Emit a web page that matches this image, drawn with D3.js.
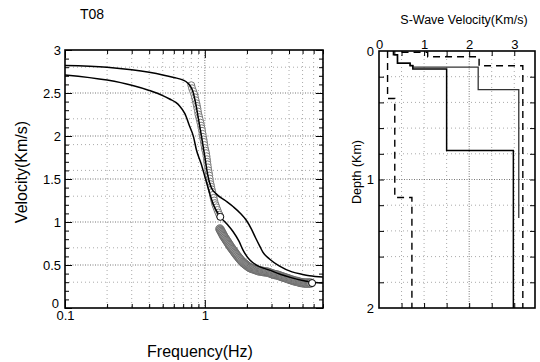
<!DOCTYPE html>
<html>
<head>
<meta charset="utf-8">
<script src="https://cdnjs.cloudflare.com/ajax/libs/d3/7.8.5/d3.min.js"></script>
<style>
  body { margin: 0; background: #fff; }
  svg { display: block; font-family: "Liberation Sans", Arial, sans-serif; }
</style>
</head>
<body>
<svg id="chart" width="540" height="362"></svg>
<script>
// ---- dispersion panel (left) ----
const freqMajorTicks = [0.1, 1];
const freqMinorTicks = [0.2, 0.3, 0.4, 0.5, 0.6, 0.7, 0.8, 0.9, 2, 3, 4, 5, 6, 7];
const velMajorTicks = [0, 0.5, 1, 1.5, 2, 2.5, 3];
const velMinorTicks = d3.range(0, 3.001, 0.1);
const velMinorGrid = [0.3, 0.7, 1.3, 1.6, 1.9, 2.2, 2.8];

// theoretical curves [freq Hz, velocity km/s]
const curveUpper = [
  [0.1, 2.82], [0.2, 2.80], [0.3, 2.77], [0.4, 2.74], [0.5, 2.71], [0.6, 2.68],
  [0.7, 2.65], [0.75, 2.62], [0.78, 2.59], [0.82, 2.52], [0.86, 2.38], [0.9, 2.2],
  [0.95, 1.98], [1.0, 1.76], [1.04, 1.58], [1.08, 1.46], [1.12, 1.39], [1.2, 1.33],
  [1.4, 1.25], [1.59, 1.18], [1.8, 1.1], [1.98, 1.02], [2.15, 0.92], [2.3, 0.82],
  [2.47, 0.72], [2.6, 0.65], [2.9, 0.57], [3.4, 0.49], [4.2, 0.42], [5.0, 0.39],
  [5.6, 0.375], [7, 0.36]
];
const curveLower = [
  [0.1, 2.71], [0.2, 2.65], [0.3, 2.59], [0.4, 2.53], [0.5, 2.47], [0.56, 2.43],
  [0.62, 2.39], [0.66, 2.35], [0.72, 2.26], [0.78, 2.11], [0.83, 1.99], [0.87, 1.84],
  [0.94, 1.68], [1.0, 1.53], [1.085, 1.33], [1.14, 1.22], [1.2, 1.14], [1.29, 1.06],
  [1.45, 0.97], [1.59, 0.89], [1.75, 0.78], [1.88, 0.67], [2.09, 0.56], [2.4, 0.49],
  [2.9, 0.44], [3.5, 0.39], [4.2, 0.35], [5.0, 0.32], [6.0, 0.30], [7, 0.29]
];

// observed phase velocities [freq Hz, velocity km/s]
const obsUpper = [
  [0.80, 2.59], [0.81, 2.555], [0.825, 2.52], [0.84, 2.485], [0.85, 2.45], [0.86, 2.415],
  [0.87, 2.38], [0.878, 2.35], [0.885, 2.32], [0.893, 2.285], [0.90, 2.25], [0.91, 2.22],
  [0.92, 2.19], [0.93, 2.155], [0.94, 2.12], [0.948, 2.09], [0.955, 2.06], [0.963, 2.025],
  [0.97, 1.99], [0.978, 1.96], [0.985, 1.93], [0.993, 1.895], [1.00, 1.86], [1.01, 1.83],
  [1.02, 1.80], [1.028, 1.765], [1.035, 1.73], [1.04, 1.70], [1.045, 1.67], [1.053, 1.635],
  [1.06, 1.60], [1.068, 1.57], [1.075, 1.54], [1.083, 1.505], [1.09, 1.47], [1.10, 1.44],
  [1.11, 1.41], [1.12, 1.38], [1.13, 1.35], [1.142, 1.315], [1.155, 1.28], [1.167, 1.25],
  [1.18, 1.22], [1.195, 1.195], [1.21, 1.17], [1.23, 1.14], [1.25, 1.11], [1.27, 1.085]
];
const obsLower = [
  [1.28, 0.92], [1.295, 0.905], [1.31, 0.89], [1.325, 0.875], [1.34, 0.86], [1.355, 0.845],
  [1.37, 0.83], [1.39, 0.815], [1.41, 0.80], [1.43, 0.785], [1.45, 0.77], [1.47, 0.755],
  [1.49, 0.74], [1.51, 0.725], [1.53, 0.71], [1.555, 0.695], [1.58, 0.68], [1.605, 0.665],
  [1.63, 0.65], [1.655, 0.635], [1.68, 0.62], [1.71, 0.605], [1.74, 0.59], [1.77, 0.575],
  [1.80, 0.56], [1.835, 0.545], [1.87, 0.53], [1.905, 0.52], [1.94, 0.51], [1.975, 0.50],
  [2.01, 0.49], [2.05, 0.48], [2.09, 0.47], [2.13, 0.465], [2.17, 0.46], [2.215, 0.455],
  [2.26, 0.45], [2.305, 0.445], [2.35, 0.44], [2.40, 0.435], [2.45, 0.43], [2.50, 0.43],
  [2.55, 0.43], [2.60, 0.425], [2.66, 0.42], [2.71, 0.42], [2.77, 0.42], [2.83, 0.415],
  [2.89, 0.41], [2.95, 0.405], [3.01, 0.40], [3.07, 0.395], [3.14, 0.39], [3.20, 0.387],
  [3.27, 0.385], [3.34, 0.38], [3.41, 0.375], [3.48, 0.37], [3.55, 0.365], [3.62, 0.36],
  [3.70, 0.355], [3.78, 0.35], [3.86, 0.345], [3.94, 0.34], [4.02, 0.335], [4.10, 0.33],
  [4.19, 0.325], [4.28, 0.32], [4.37, 0.315], [4.46, 0.312], [4.56, 0.31], [4.65, 0.305],
  [4.75, 0.30], [4.85, 0.297], [4.95, 0.295], [5.05, 0.292], [5.16, 0.29], [5.27, 0.29],
  [5.38, 0.29], [5.50, 0.29], [5.61, 0.29], [5.72, 0.29]
];
const obsEnds = [[1.29, 1.06], [5.85, 0.29]];

// ---- S-wave profile panel (right) ----
const vsMajorTicks = [0, 1, 2, 3];
const vsMinorTicks = [0.5, 1, 1.5, 2, 2.5, 3];
const depthMajorTicks = [0, 1, 2];
const depthMinorTicks = d3.range(0.2, 2, 0.2);

// each profile: layer velocity (km/s) and layer top depth (km), last layer to profEnd
const profA_vs = [0.32, 0.41, 0.69, 0.75, 1.50, 2.98];
const profA_top = [0, 0.03, 0.095, 0.115, 0.14, 0.775];
const profA_end = 2.0;
const profB_vs = [0.35, 0.41, 0.69, 0.75, 2.20, 3.10];
const profB_top = [0, 0.03, 0.095, 0.112, 0.125, 0.30];
const profB_end = 1.30;
const profLow_vs = [0.19, 0.35, 0.73];
const profLow_top = [0, 0.37, 1.14];
const profLow_end = 2.0;
const profHigh_vs = [0.5, 1.08, 2.22, 3.19];
const profHigh_top = [0.01, 0.01, 0.045, 0.115];
const profHigh_end = 2.0;

const svg = d3.select('#chart');

// inward ticks helper
function ticks(g, axisFn, scale, values, len) {
  g.call(axisFn(scale).tickValues(values).tickSize(-len).tickFormat(''));
  g.select('.domain').remove();
  g.selectAll('line').attr('stroke', '#000').attr('stroke-width', 1);
}
function labels(g, axisFn, scale, values, fmt, pad) {
  g.call(axisFn(scale).tickValues(values).tickSize(0).tickPadding(pad).tickFormat(fmt));
  g.select('.domain').remove();
  g.selectAll('text').attr('fill', '#000').attr('font-size', 13)
    .attr('font-family', '"Liberation Sans", Arial, sans-serif');
}

// ===== left panel =====
const L = { left: 65, right: 323, top: 50, bottom: 308 };
const x = d3.scaleLog().domain([0.1, 7]).range([L.left, L.right]);
const y = d3.scaleLinear().domain([0, 3]).range([L.bottom, L.top]);

const gl = svg.append('g');

// grid
gl.append('g').selectAll('line').data(freqMinorTicks).join('line')
  .attr('x1', d => x(d)).attr('x2', d => x(d)).attr('y1', L.top).attr('y2', L.bottom)
  .attr('stroke', '#aaa').attr('stroke-width', 1).attr('stroke-dasharray', '1,3');
gl.append('g').selectAll('line').data(velMinorGrid).join('line')
  .attr('x1', L.left).attr('x2', L.right).attr('y1', d => y(d)).attr('y2', d => y(d))
  .attr('stroke', '#aaa').attr('stroke-width', 1).attr('stroke-dasharray', '1,3');
gl.append('g').selectAll('line').data([1]).join('line')
  .attr('x1', d => x(d)).attr('x2', d => x(d)).attr('y1', L.top).attr('y2', L.bottom)
  .attr('stroke', '#777').attr('stroke-width', 1).attr('stroke-dasharray', '1,1.5');
gl.append('g').selectAll('line').data(velMajorTicks.slice(1, -1)).join('line')
  .attr('x1', L.left).attr('x2', L.right).attr('y1', d => y(d)).attr('y2', d => y(d))
  .attr('stroke', '#777').attr('stroke-width', 1).attr('stroke-dasharray', '1,1.5');

// ticks on all four sides
ticks(gl.append('g').attr('transform', `translate(0,${L.bottom})`), d3.axisBottom, x, freqMajorTicks, 8);
ticks(gl.append('g').attr('transform', `translate(0,${L.bottom})`), d3.axisBottom, x, freqMinorTicks, 4);
ticks(gl.append('g').attr('transform', `translate(0,${L.top})`), d3.axisTop, x, freqMajorTicks, 8);
ticks(gl.append('g').attr('transform', `translate(0,${L.top})`), d3.axisTop, x, freqMinorTicks, 4);
ticks(gl.append('g').attr('transform', `translate(${L.left},0)`), d3.axisLeft, y, velMajorTicks, 7);
ticks(gl.append('g').attr('transform', `translate(${L.left},0)`), d3.axisLeft, y, velMinorTicks, 4);
ticks(gl.append('g').attr('transform', `translate(${L.right},0)`), d3.axisRight, y, velMajorTicks, 7);
ticks(gl.append('g').attr('transform', `translate(${L.right},0)`), d3.axisRight, y, velMinorTicks, 4);

// tick labels
labels(gl.append('g').attr('transform', `translate(0,${L.bottom})`), d3.axisBottom, x,
  freqMajorTicks, d => d === 0.1 ? '0.1' : '1', 3);
const yLab = gl.append('g').attr('transform', `translate(${L.left},0)`);
labels(yLab, d3.axisLeft, y, velMajorTicks, d => String(d), 4);
// the "0" sits a little higher and tucked left of "0.1", as in the original
yLab.selectAll('.tick').filter(d => d === 0).select('text').attr('dy', '-0.05em').attr('x', -6);

// curves
gl.append('defs').append('clipPath').attr('id', 'clipL').append('rect')
  .attr('x', L.left).attr('y', L.top).attr('width', L.right - L.left).attr('height', L.bottom - L.top);
const plotL = gl.append('g').attr('clip-path', 'url(#clipL)');
const lineL = d3.line().x(d => x(d[0])).y(d => y(d[1])).curve(d3.curveMonotoneX);

plotL.selectAll('circle.lo').data(obsLower).join('circle').attr('class', 'lo')
  .attr('cx', d => x(d[0])).attr('cy', d => y(d[1])).attr('r', 4.2)
  .attr('fill', '#999').attr('stroke', '#666').attr('stroke-width', 0.8);
plotL.selectAll('circle.up').data(obsUpper).join('circle').attr('class', 'up')
  .attr('cx', d => x(d[0])).attr('cy', d => y(d[1])).attr('r', 3.5)
  .attr('fill', '#fff').attr('stroke', '#777').attr('stroke-width', 1);

[curveUpper, curveLower].forEach(c => {
  plotL.append('path').datum(c).attr('d', lineL)
    .attr('fill', 'none').attr('stroke', '#000').attr('stroke-width', 1.5);
});

plotL.selectAll('circle.end').data(obsEnds).join('circle').attr('class', 'end')
  .attr('cx', d => x(d[0])).attr('cy', d => y(d[1])).attr('r', 3.5)
  .attr('fill', '#fff').attr('stroke', '#000').attr('stroke-width', 1);

gl.append('rect').attr('x', L.left).attr('y', L.top)
  .attr('width', L.right - L.left).attr('height', L.bottom - L.top)
  .attr('fill', 'none').attr('stroke', '#000').attr('stroke-width', 1.6);

// titles
gl.append('text').attr('x', 80).attr('y', 19).attr('font-size', 14).text('T08');
gl.append('text').attr('x', 200).attr('y', 357).attr('text-anchor', 'middle')
  .attr('font-size', 16).text('Frequency(Hz)');
gl.append('text').attr('transform', 'translate(27,172) rotate(-90)').attr('text-anchor', 'middle')
  .attr('font-size', 16).text('Velocity(Km/s)');

// ===== right panel =====
const R = { left: 379, right: 535, top: 51, bottom: 308 };
const xv = d3.scaleLinear().domain([0, 3.46]).range([R.left, R.right]);
const yd = d3.scaleLinear().domain([0, 2]).range([R.top, R.bottom]);

const gr = svg.append('g');

gr.append('g').selectAll('line').data([0.5, 1, 1.5, 2.5, 3]).join('line')
  .attr('x1', d => xv(d)).attr('x2', d => xv(d)).attr('y1', R.top).attr('y2', R.bottom)
  .attr('stroke', '#aaa').attr('stroke-width', 1).attr('stroke-dasharray', '1,3');
gr.append('g').selectAll('line').data(depthMinorTicks.filter(d => Math.abs(d - 1) > 0.01)).join('line')
  .attr('x1', R.left).attr('x2', R.right).attr('y1', d => yd(d)).attr('y2', d => yd(d))
  .attr('stroke', '#aaa').attr('stroke-width', 1).attr('stroke-dasharray', '1,3');
gr.append('g').selectAll('line').data([2]).join('line')
  .attr('x1', d => xv(d)).attr('x2', d => xv(d)).attr('y1', R.top).attr('y2', R.bottom)
  .attr('stroke', '#777').attr('stroke-width', 1).attr('stroke-dasharray', '1,1.5');
gr.append('g').selectAll('line').data([1]).join('line')
  .attr('x1', R.left).attr('x2', R.right).attr('y1', d => yd(d)).attr('y2', d => yd(d))
  .attr('stroke', '#777').attr('stroke-width', 1).attr('stroke-dasharray', '1,1.5');

ticks(gr.append('g').attr('transform', `translate(0,${R.top})`), d3.axisTop, xv, vsMinorTicks, 5);
ticks(gr.append('g').attr('transform', `translate(0,${R.bottom})`), d3.axisBottom, xv, vsMinorTicks, 5);
ticks(gr.append('g').attr('transform', `translate(${R.left},0)`), d3.axisLeft, yd, depthMinorTicks, 5);
ticks(gr.append('g').attr('transform', `translate(${R.right},0)`), d3.axisRight, yd, depthMinorTicks, 5);

labels(gr.append('g').attr('transform', `translate(0,${R.top})`), d3.axisTop, xv,
  vsMajorTicks, d => String(d), 2);
labels(gr.append('g').attr('transform', `translate(${R.left},0)`), d3.axisLeft, yd,
  depthMajorTicks, d => String(d), 5);

const stepLine = d3.line().x(d => xv(d[0])).y(d => yd(d[1])).curve(d3.curveStepBefore);
function profile(vs, tops, end) {
  const pts = vs.map((v, i) => [v, tops[i]]);
  pts.push([vs[vs.length - 1], end]);
  return pts;
}
gr.append('path').datum(profile(profLow_vs, profLow_top, profLow_end)).attr('d', stepLine)
  .attr('fill', 'none').attr('stroke', '#000').attr('stroke-width', 1.4).attr('stroke-dasharray', '7,5');
gr.append('path').datum(profile(profHigh_vs, profHigh_top, profHigh_end)).attr('d', stepLine)
  .attr('fill', 'none').attr('stroke', '#000').attr('stroke-width', 1.4).attr('stroke-dasharray', '7,5');
gr.append('path').datum(profile(profB_vs, profB_top, profB_end)).attr('d', stepLine)
  .attr('fill', 'none').attr('stroke', '#333').attr('stroke-width', 1.3);
gr.append('path').datum(profile(profA_vs, profA_top, profA_end)).attr('d', stepLine)
  .attr('fill', 'none').attr('stroke', '#000').attr('stroke-width', 1.5);

gr.append('rect').attr('x', R.left).attr('y', R.top)
  .attr('width', R.right - R.left).attr('height', R.bottom - R.top)
  .attr('fill', 'none').attr('stroke', '#000').attr('stroke-width', 1.6);

gr.append('text').attr('x', 464).attr('y', 24).attr('text-anchor', 'middle')
  .attr('font-size', 12.5).text('S-Wave Velocity(Km/s)');
gr.append('text').attr('transform', 'translate(361,172) rotate(-90)').attr('text-anchor', 'middle')
  .attr('font-size', 12.5).text('Depth (Km)');
</script>
</body>
</html>
